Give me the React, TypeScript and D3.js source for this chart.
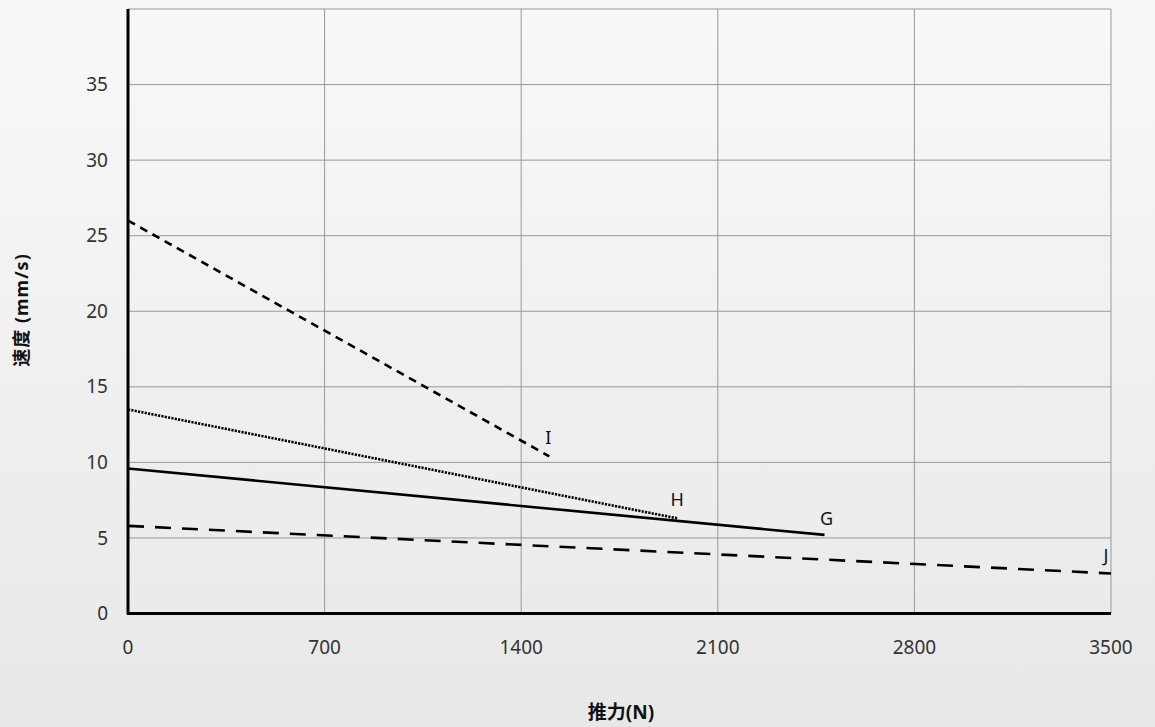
import React from "react";
import * as d3 from "d3";

const xTicks = [0, 700, 1400, 2100, 2800, 3500];
const yTicks = [0, 5, 10, 15, 20, 25, 30, 35];
const seriesNames = ["I", "H", "G", "J"];
const seriesI = [[0, 26.0], [1500, 10.4]];
const seriesH = [[0, 13.5], [1955, 6.3]];
const seriesG = [[0, 9.6], [2480, 5.2]];
const seriesJ = [[0, 5.8], [3500, 2.65]];
const dashes = ["8 6", "2.2 1.2", "", "16 11"];
const xLabel = "推力(N)";
const yLabel = "速度 (mm/s)";

export default function App() {
  const W = 1155, H = 727;
  const left = 128, right = 1111, top = 9, bottom = 613.5;
  const x = d3.scaleLinear().domain([0, 3500]).range([left, right]);
  const y = d3.scaleLinear().domain([0, 40]).range([bottom, top]);
  const line = d3.line<number[]>().x(d => x(d[0])).y(d => y(d[1]));
  const all = [seriesI, seriesH, seriesG, seriesJ];
  const font = "'Noto Sans', 'Noto Sans CJK SC', sans-serif";
  const labelOffsets = [[-1, 0], [0, 0], [2, 2], [-5, 1]];
  return (
    <svg width={W} height={H} style={{ position: "absolute", left: 0, top: 0, display: "block" }} fontFamily={font}>
      <defs>
        <linearGradient id="bg" x1="0" y1="0" x2="0" y2="1">
          <stop offset="0" stopColor="#f8f8f8" />
          <stop offset="1" stopColor="#e8e8e8" />
        </linearGradient>
      </defs>
      <rect x={0} y={0} width={W} height={H} fill="url(#bg)" />
      {xTicks.map(t => (
        <line key={"gx" + t} x1={x(t)} x2={x(t)} y1={top} y2={bottom} stroke="#999" strokeWidth={1} />
      ))}
      {[...yTicks, 40].map(t => (
        <line key={"gy" + t} x1={left} x2={right} y1={y(t)} y2={y(t)} stroke="#999" strokeWidth={1} />
      ))}
      {all.map((s, i) => (
        <path key={"s" + i} d={line(s) || ""} fill="none" stroke="#000" strokeWidth={2.6}
          strokeDasharray={dashes[i] || undefined} />
      ))}
      {all.map((s, i) => {
        const e = s[s.length - 1];
        return (
          <text key={"l" + i} x={x(e[0]) + labelOffsets[i][0]} y={y(e[1]) - 12 + labelOffsets[i][1]} textAnchor="middle"
            fontSize={18} fill="#111">{seriesNames[i]}</text>
        );
      })}
      <line x1={left} x2={left} y1={top} y2={bottom + 1} stroke="#000" strokeWidth={3} />
      <line x1={left - 1} x2={right} y1={bottom} y2={bottom} stroke="#000" strokeWidth={3} />
      {yTicks.map(t => (
        <text key={"yt" + t} x={108} y={y(t)} dy="0.35em" textAnchor="end" fontSize={19} fill="#333">{t}</text>
      ))}
      {xTicks.map(t => (
        <text key={"xt" + t} x={x(t)} y={647} dy="0.35em" textAnchor="middle" fontSize={19} fill="#333">{t}</text>
      ))}
      <text x={621} y={712} dy="0.35em" textAnchor="middle" fontSize={19} fontWeight="bold" fill="#111">{xLabel}</text>
      <text transform="translate(22,310) rotate(-90)" dy="0.35em" textAnchor="middle" fontSize={18} fontWeight="bold"
        letterSpacing={1} fill="#111">{yLabel}</text>
    </svg>
  );
}
